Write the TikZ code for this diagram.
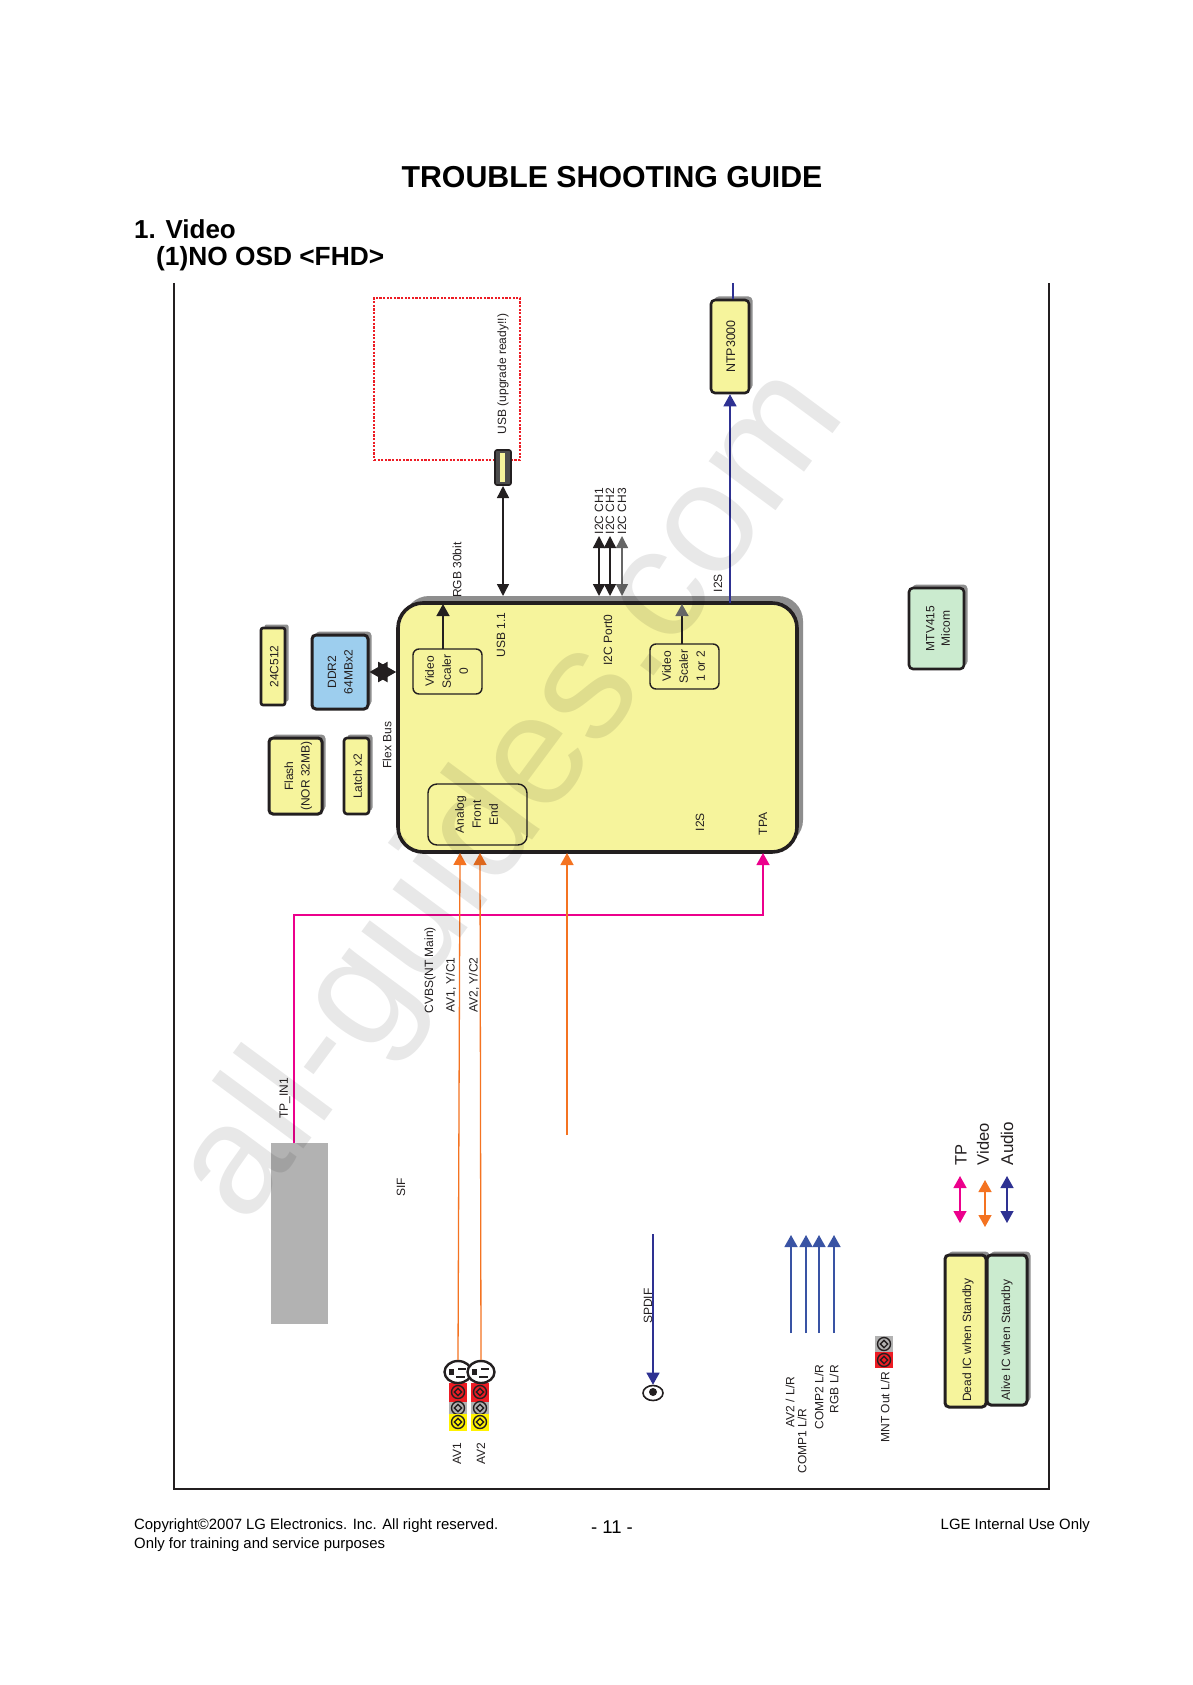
\documentclass[tikz,border=0pt]{standalone}
\usepackage{fontspec}
\setmainfont{Liberation Sans}
\usetikzlibrary{arrows.meta}
\usetikzlibrary{shadows}
\usetikzlibrary{shapes.geometric}
\definecolor{chipyellow}{HTML}{F6F49C}
\definecolor{chipblue}{HTML}{9DCEEE}
\definecolor{chipgreen}{HTML}{CBEBCF}
\definecolor{shadowgray}{HTML}{8E8E8E}
\definecolor{inkblack}{HTML}{231F20}
\definecolor{tporange}{HTML}{F47321}
\definecolor{tpmagenta}{HTML}{EC008C}
\definecolor{audioblue}{HTML}{2E3192}
\definecolor{linkblue}{HTML}{3953A4}
\definecolor{dotred}{HTML}{ED1C24}
\newcommand{\vtxt}[1]{\rotatebox{90}{\begin{tabular}{@{}c@{}}#1\end{tabular}}}
\tikzset{
  chip/.style={draw=inkblack,line width=2.6pt,fill=chipyellow,rounded corners=4pt,inner sep=0pt,
    font=\fontsize{12}{16.5}\selectfont,text=inkblack,
    drop shadow={shadow xshift=3.5pt,shadow yshift=3.5pt,opacity=1,fill=shadowgray}},
  subbox/.style={draw=inkblack,line width=1.4pt,rounded corners=6pt,inner sep=0pt,
    font=\fontsize{12}{17}\selectfont,text=inkblack},
  lbl/.style={rotate=90,inner sep=0pt,font=\fontsize{12}{14}\selectfont,text=inkblack},
  blk/.style={line width=1.4pt,{Triangle[length=12pt,width=12pt]}-{Triangle[length=12pt,width=12pt]}},
  sig/.style={line width=1.3pt,-{Triangle[length=12pt,width=13pt]}},
  sigboth/.style={line width=1.3pt,{Triangle[length=12pt,width=13pt]}-{Triangle[length=12pt,width=13pt]}},
  sockbox/.style={inner sep=0pt,minimum width=18pt},
  ring/.style={draw=inkblack,line width=1.4pt,inner sep=0pt},
}
\begin{document}
\begin{tikzpicture}[x=1pt,y=-1pt]
  \useasboundingbox [fill=white] (0,0) rectangle (1192,1685);
  % headings
  \node [inner sep=0pt,font=\fontsize{30.3}{31}\selectfont\bfseries] (title) at (612,177) {TROUBLE SHOOTING GUIDE};
  \node [anchor=west,inner sep=0pt,font=\fontsize{26}{27}\selectfont\bfseries] (sect) at (134,229) {1. Video};
  \node [anchor=west,inner sep=0pt,font=\fontsize{26.3}{27}\selectfont\bfseries] (subsect) at (156,258.5) {(1)NO OSD <FHD>};
  % frame
  \draw [line width=1.3pt,draw=inkblack] (174,283) -- (174,1489) -- (1049,1489) -- (1049,283);
  % upgrade area
  \node [draw=dotred,line width=2.8pt,dash pattern=on 2.2pt off 1.4pt,minimum width=146pt,minimum height=162pt,inner sep=0pt] (usbarea) at (447,379) {};
  \node [lbl] (usbready) at (503,374) {USB (upgrade ready!!)};
  % main chip
  \node [chip,line width=3.6pt,rounded corners=25pt,minimum width=399pt,minimum height=249pt,
    drop shadow={shadow xshift=6pt,shadow yshift=7pt,opacity=1,fill=shadowgray}] (main) at (597.5,727.5) {};
  \node [subbox,minimum width=69pt,minimum height=45pt] (vs0) at (447.5,671.5) {\vtxt{Video\\Scaler\\0}};
  \node [subbox,minimum width=69pt,minimum height=45pt] (vs12) at (684.5,666.5) {\vtxt{Video\\Scaler\\1 or 2}};
  \node [subbox,minimum width=99pt,minimum height=61pt,rounded corners=9pt] (afe) at (477.5,814.5) {\vtxt{Analog\\Front\\End}};
  % memories
  \node [chip,rounded corners=2pt,minimum width=24pt,minimum height=77pt] (eeprom) at (273,666.5) {\kern4pt\vtxt{24C512}};
  \node [chip,fill=chipblue,minimum width=56pt,minimum height=74pt,line width=3pt] (ddr) at (340,672) {\kern2pt\vtxt{DDR2\\64MBx2}};
  \node [chip,minimum width=53pt,minimum height=76pt,line width=3pt] (flash) at (295.5,776) {\kern5pt\vtxt{Flash\\(NOR 32MB)}};
  \node [chip,rounded corners=3pt,minimum width=25pt,minimum height=76pt] (latch) at (356.5,776) {\kern4pt\vtxt{Latch x2}};
  % other chips
  \node [chip,minimum width=38pt,minimum height=93pt,font=\fontsize{12.5}{15}\selectfont] (ntp) at (730,346.5) {\kern4pt\vtxt{NTP3000}};
  \node [chip,fill=chipgreen,minimum width=55pt,minimum height=81pt,font=\fontsize{12}{15.5}\selectfont] (micom) at (936.5,628.5) {\kern5pt\vtxt{MTV415\\Micom}};
  \node [fill=black!30,minimum width=57pt,minimum height=181pt,inner sep=0pt] (tuner) at (299.5,1233.5) {};
  \node [draw=inkblack,line width=1.6pt,fill=black!70,rounded corners=2pt,minimum width=16pt,minimum height=35pt,inner sep=0pt] (usbjack) at (503,467.5) {};
  \node [fill=chipyellow,minimum width=5pt,minimum height=29pt,inner sep=0pt] (usbslot) at (502,467.5) {};
  % named ends
  \coordinate (ntptop) at (733,283);
  \coordinate (rgbfrom) at (443,649);
  \coordinate (rgbto) at (443,604);
  \coordinate (usbfrom) at (503,486);
  \coordinate (usbto) at (503,596);
  \coordinate (vs12from) at (682,644);
  \coordinate (vs12to) at (682,604);
  \coordinate (i2sa) at (730,603);
  \coordinate (tpcorner) at (294,915);
  \coordinate (tpin) at (294,1143);
  \coordinate (tpout) at (763,853);
  \coordinate (video1) at (460,853);
  \coordinate (video2) at (480,853);
  \coordinate (video3) at (567,853);
  \coordinate (videofree) at (567,1135);
  \coordinate (spdiffree) at (653,1234);
  % usb, rgb, i2c
  \draw [line width=1.4pt,draw=inkblack,-{Triangle[length=12pt,width=13pt]}] (rgbfrom) -- (rgbto);
  \draw [blk,draw=inkblack] (usbfrom) -- (usbto);
  \foreach \i/\x/\c in {1/599/inkblack,2/610/inkblack,3/622/black!60} {
    \coordinate (i2sup\i) at (\x,536);
    \coordinate (i2sdn\i) at (\x,596);
    \draw [blk,draw=\c] (i2sup\i) -- (i2sdn\i);
    \node [lbl] (i2clab\i) at (\x,511) {I2C CH\i};
  }
  \draw [line width=1.4pt,draw=inkblack,-{Triangle[length=12pt,width=13pt,black!60]}] (vs12from) -- (vs12to);
  \draw [sig,draw=audioblue] (i2sa) -- (ntp.south);
  \draw [line width=1.3pt,draw=audioblue] (ntp.north -| ntptop) -- (ntptop);
  \draw [line width=2pt,draw=inkblack,{Triangle[length=18pt,width=20pt]}-{Triangle[length=18pt,width=20pt]}] (ddr.east) -- (main.west |- ddr.east);
  % tp
  \draw [sig,draw=tpmagenta] (tpin) -- (tpcorner) -| (tpout);
  % av sockets
  \foreach \n/\x/\y/\c/\h in {ar/458/1392/dotred/19,ag/458/1408/black!30/13,ay/458/1422/yellow/17,
      br/480/1392/dotred/19,bg/480/1408/black!30/13,by/480/1422/yellow/17,
      mg/884/1344/black!30/16,mr/884/1360/dotred/16} {
    \node [sockbox,fill=\c,minimum height=\h pt] (\n) at (\x,\y) {};
    \node [ring,circle,minimum size=13pt] (\n c) at (\x,\y) {};
    \node [ring,diamond,minimum size=8pt] (\n d) at (\x,\y) {};
  }
  \foreach \n/\x in {sva/458,svb/481} {
    \node [draw=inkblack,line width=2.4pt,ellipse,fill=white,minimum width=27pt,minimum height=22pt,inner sep=0pt] (\n) at (\x,1372) {};
    \fill [inkblack] (\x-9,1369) rectangle (\x-4,1375);
    \fill [inkblack] (\x,1368) rectangle (\x+8,1370);
    \fill [inkblack] (\x-2,1376) rectangle (\x+7,1378);
  }
  \draw [sig,draw=tporange] (sva.north) -- (video1);
  \draw [sig,draw=tporange] (svb.north) -- (video2);
  \draw [sig,draw=tporange] (videofree) -- (video3);
  % spdif
  \node [draw=inkblack,line width=1.6pt,ellipse,minimum width=20pt,minimum height=15pt,inner sep=0pt] (spdifjack) at (653,1393) {};
  \node [fill=inkblack,circle,minimum size=8pt,inner sep=0pt] (spdifcore) at (653,1392) {};
  \draw [sig,draw=audioblue] (spdiffree) -- (spdifjack.north);
  % audio inputs
  \foreach \i/\x in {1/791,2/806,3/819,4/834} {
    \coordinate (audin\i) at (\x,1333);
    \coordinate (audout\i) at (\x,1235);
    \draw [sig,draw=linkblue] (audin\i) -- (audout\i);
  }
  % labels
  \node [lbl] at (457,570) (rgblab) {RGB 30bit};
  \node [lbl] at (501,635) (usblab) {USB 1.1};
  \node [lbl] at (608,640) (portlab) {I2C Port0};
  \node [lbl] at (718,583) (i2stop) {I2S};
  \node [lbl] at (700,822) (i2sbot) {I2S};
  \node [lbl] at (763,824) (tpalab) {TPA};
  \node [lbl] at (387,745) (flexlab) {Flex Bus};
  \node [lbl] at (285,1098) (tplab) {TP\_IN1};
  \node [lbl] at (430,970) (cvbslab) {CVBS(NT Main)};
  \node [lbl] at (451,985) (av1lab) {AV1, Y/C1};
  \node [lbl] at (474,985) (av2lab) {AV2, Y/C2};
  \node [lbl] at (401,1187) (siflab) {SIF};
  \node [lbl] at (648,1306) (spdiflab) {SPDIF};
  \node [lbl] at (457,1454) (av1) {AV1};
  \node [lbl] at (481,1454) (av2) {AV2};
  \node [lbl] at (790,1402) (a1) {AV2 / L/R};
  \node [lbl] at (802,1441) (a2) {COMP1 L/R};
  \node [lbl] at (819,1397) (a3) {COMP2 L/R};
  \node [lbl] at (834,1389) (a4) {RGB L/R};
  \node [lbl] at (885,1407) (mntlab) {MNT Out L/R};
  % legend
  \node [chip,minimum width=41pt,minimum height=152pt,line width=3pt] (dead) at (965.5,1331) {};
  \node [chip,fill=chipgreen,minimum width=40pt,minimum height=150pt,line width=3pt] (alive) at (1007,1330) {};
  \node [lbl] (deadlab) at (968,1340) {Dead IC when Standby};
  \node [lbl] (alivelab) at (1007,1340) {Alive IC when Standby};
  \coordinate (lga1) at (960,1176); \coordinate (lga2) at (960,1223);
  \coordinate (lgb1) at (985,1180); \coordinate (lgb2) at (985,1227);
  \coordinate (lgc1) at (1007,1176); \coordinate (lgc2) at (1007,1223);
  \draw [sigboth,draw=tpmagenta] (lga1) -- (lga2);
  \draw [sigboth,draw=tporange] (lgb1) -- (lgb2);
  \draw [sigboth,draw=audioblue] (lgc1) -- (lgc2);
  \node [lbl,anchor=west,font=\fontsize{16.5}{18}\selectfont] (lgtp) at (961,1165.5) {TP};
  \node [lbl,anchor=west,font=\fontsize{16.5}{18}\selectfont] (lgvideo) at (983,1165.5) {Video};
  \node [lbl,anchor=west,font=\fontsize{17}{18}\selectfont] (lgaudio) at (1007,1165.5) {Audio};
  % footer
  \node [anchor=west,inner sep=0pt,font=\fontsize{14.9}{16}\selectfont] (copy) at (134,1526) {Copyright©2007 LG Electronics. Inc. All right reserved.};
  \node [anchor=west,inner sep=0pt,font=\fontsize{14.9}{16}\selectfont] (only) at (134,1545) {Only for training and service purposes};
  \node [inner sep=0pt,font=\fontsize{18.5}{19}\selectfont] (page) at (612,1527) {- 11 -};
  \node [anchor=east,inner sep=0pt,font=\fontsize{14.9}{16}\selectfont] (internal) at (1090,1526) {LGE Internal Use Only};
  % watermark
  \node [rotate=53.5,opacity=0.09,text=black,inner sep=0pt,font=\fontsize{157}{160}\selectfont] (mark) at (514,797) {all-guides.com};
\end{tikzpicture}
\end{document}
